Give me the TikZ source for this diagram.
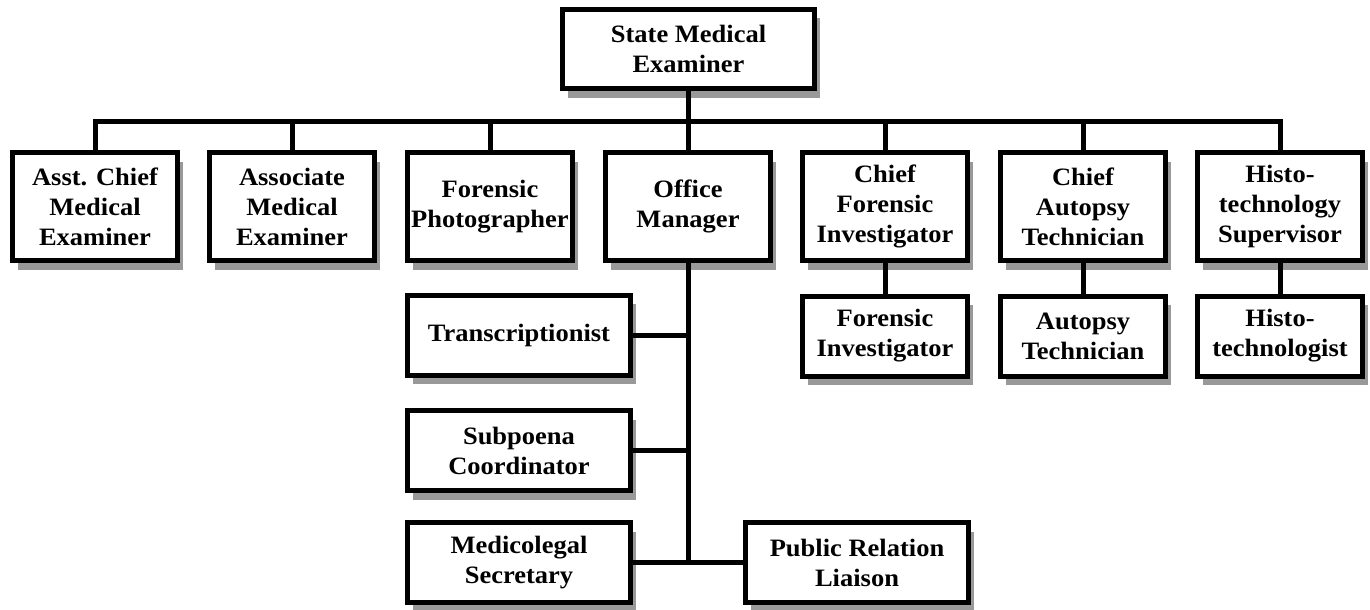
\documentclass[tikz,border=0pt]{standalone}
\usepackage{fontspec}
\setmainfont[FakeStretch=1.06]{Liberation Serif}
\usetikzlibrary{shadows}
\begin{document}
\begin{tikzpicture}[x=1pt,y=-1pt,
  box/.style={draw, line width=5pt, fill=white, align=center,
    font=\fontsize{25}{30}\selectfont\bfseries, inner sep=0pt,
    minimum width=165pt,
    drop shadow={shadow xshift=5pt, shadow yshift=-9pt, fill=black!40, opacity=1}},
  tall/.style={box, minimum height=108pt},
  short/.style={box, minimum height=80pt},
  wide/.style={box, minimum height=80pt, minimum width=223pt},
  conn/.style={line width=5pt}]
\useasboundingbox (0,0) rectangle (1370,610);
\coordinate (bus) at (0,121);
% top
\node[box, minimum width=252pt, minimum height=79pt] (sme) at (688.5,49) {State Medical\\Examiner};
% row 2
\node[tall] (ace) at (95,206.5) {Asst. Chief\\Medical\\Examiner};
\node[tall] (ame) at (292,206.5) {Associate\\Medical\\Examiner};
\node[tall] (fp) at (490,206.5) {Forensic\\Photographer};
\node[tall] (om) at (688,206.5) {Office\\Manager};
\node[tall] (cfi) at (885,206.5) {Chief\\Forensic\\Investigator};
\node[tall] (cat) at (1083,206.5) {Chief\\Autopsy\\Technician};
\node[tall] (hs) at (1280,206.5) {Histo-\\technology\\Supervisor};
% row 3 right
\node[short] (fi) at (885,336) {Forensic\\Investigator};
\node[short] (at) at (1083,336) {Autopsy\\Technician};
\node[short] (ht) at (1280,336) {Histo-\\technologist};
% office column
\node[wide] (tr) at (519,335) {Transcriptionist};
\node[wide] (sc) at (519,450.5) {Subpoena\\Coordinator};
\node[wide] (ms) at (519,562.5) {Medicolegal\\Secretary};
\node[wide] (prl) at (857,562.5) {Public Relation\\Liaison};
% connectors
\draw[conn] (sme.south) -- (sme.south |- bus);
\draw[conn] (ace.north) |- (hs.north |- bus) -- (hs.north);
\foreach \n in {ame,fp,om,cfi,cat} \draw[conn] (\n.north) -- (\n.north |- bus);
\draw[conn] (cfi.south) -- (fi.north);
\draw[conn] (cat.south) -- (at.north);
\draw[conn] (hs.south) -- (ht.north);
\draw[conn] (om.south) -- (om.south |- ms.east);
\draw[conn] (tr.east) -- (tr.east -| om.south);
\draw[conn] (sc.east) -- (sc.east -| om.south);
\draw[conn] (ms.east) -- (prl.west);
\end{tikzpicture}
\end{document}
